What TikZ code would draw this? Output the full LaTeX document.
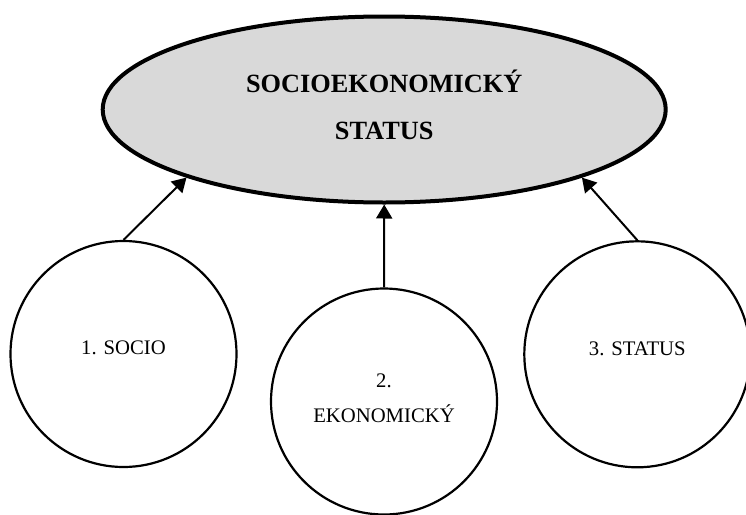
\documentclass[tikz,border=0pt]{standalone}
\usepackage{fontspec}
\setmainfont{Liberation Serif}
\usepackage{xcolor}
\usepackage{tikz}
\usetikzlibrary{shapes.geometric,arrows.meta}
\definecolor{sesgray}{RGB}{217,217,217}

\begin{document}
\begin{tikzpicture}[x=1pt,y=-1pt,
		whole/.style={ellipse,draw,line width=4pt,fill=sesgray,minimum width=563pt,minimum height=186pt,inner sep=0pt,align=center,text depth=10pt,font=\fontsize{26.3}{47}\selectfont\bfseries},
		part/.style={circle,draw,line width=2.2pt,minimum size=226pt,inner sep=0pt,align=center,text depth=12pt,font=\fontsize{20.7}{35}\selectfont}]
		\useasboundingbox (0,0) rectangle (746,514);
		\node[whole] (S) at (384.2,109.5) {SOCIOEKONOMICKÝ\\STATUS};
		\node[part] (S1) at (123.5,354) {1. SOCIO};
		\node[part,text depth=6pt] (S2) at (384,401.5) {2.\\EKONOMICKÝ};
		\node[part] (S3) at (637.3,354.3) {3. STATUS};
		%
		\path[->,line width=2pt,>={Triangle[width=16pt,length=14pt]}]
		(S1.north) edge (S.199)
		(S2.north) edge (S.south)
		(S3.north) edge (S.341);
\end{tikzpicture}
\end{document}
